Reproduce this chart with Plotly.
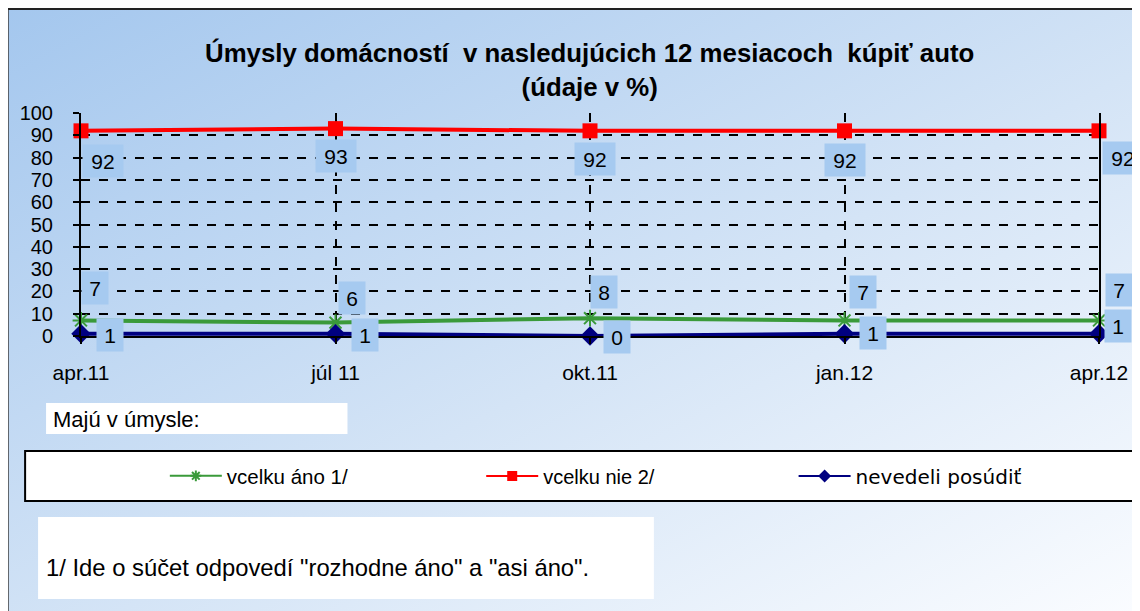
import base64
import plotly.graph_objects as go

# ---- data ----
categories = ["apr.11", "júl 11", "okt.11", "jan.12", "apr.12"]
series_names = ["vcelku áno 1/", "vcelku nie 2/", "nevedeli posúdiť"]
vcelku_ano = [7, 6, 8, 7, 7]
vcelku_nie = [92, 93, 92, 92, 92]
nevedeli = [1, 1, 0, 1, 1]
y_ticks = [0, 10, 20, 30, 40, 50, 60, 70, 80, 90, 100]

title_text = "<b>Úmysly domácností  v nasledujúcich 12 mesiacoch  kúpiť auto<br>(údaje v %)</b>"
intent_text = "Majú v úmysle:"
footnote_text = '1/ Ide o súčet odpovedí "rozhodne áno" a "asi áno".'

# ---- styling / layout (screen pixels; page body has an 8px margin) ----
OFF = 8
W, H = 1140 - OFF, 611 - OFF
PL, PR, PT, PB = 81, 1101, 113, 336  # plot area in screen px
FONT = "Liberation Sans, Arial, sans-serif"


def px_x(p):
    return (p - PL) / (PR - PL)


def px_y(p):
    return (PB - p) / (PB - PT)


# label offsets (px, right / down) for each series' data labels
off_ano = [(14, -32), (16, -25), (14, -26), (18, -28), (20, -30)]
off_nie = [(22, 30), (0, 27), (5, 28), (0, 29), (24, 27)]
off_nev = [(29, 1), (29, 1), (27, 1), (28, -1), (19, -8)]

GREEN = "#3A9A3A"
RED = "#FF0000"
NAVY = "#000080"
LABEL_BG = "#A6CAF0"

fig = go.Figure()
styles = [
    (vcelku_ano, GREEN, "asterisk-open", 14, 9),
    (vcelku_nie, RED, "square", 15, 10),
    (nevedeli, NAVY, "diamond", 15, 10),
]
legend_ids = ["legend", "legend2", "legend3"]
for (vals, col, sym, msize, lsize), name, lid in zip(styles, series_names, legend_ids):
    mk = dict(symbol=sym, size=msize, color=col)
    if sym.endswith("open"):
        mk["line"] = dict(color=col, width=2)
    fig.add_trace(go.Scatter(
        x=categories, y=vals, name=name, mode="lines+markers",
        line=dict(color=col, width=4), marker=mk, cliponaxis=False, showlegend=False,
    ))
    # legend-only entry (thinner line / smaller marker as in the reference legend)
    lmk = dict(symbol=sym, size=lsize, color=col)
    if sym.endswith("open"):
        lmk["line"] = dict(color=col, width=2)
    fig.add_trace(go.Scatter(
        x=[None], y=[None], name=name, mode="lines+markers",
        line=dict(color=col, width=2), marker=lmk, showlegend=True, legend=lid,
    ))

annotations = []
for vals, offs in ((vcelku_nie, off_nie), (vcelku_ano, off_ano), (nevedeli, off_nev)):
    for c, v, (dx, dy) in zip(categories, vals, offs):
        t = str(v)
        annotations.append(dict(
            x=c, y=v, xref="x", yref="y", text=t, showarrow=False,
            xanchor="center", yanchor="middle", xshift=dx, yshift=-dy,
            bgcolor=LABEL_BG, width=38 if len(t) > 1 else 24, height=30,
            borderpad=1, font=dict(family=FONT, size=21, color="black"),
        ))

annotations.append(dict(
    x=px_x(590), y=px_y(69), xref="paper", yref="paper", text=title_text,
    showarrow=False, xanchor="center", yanchor="middle",
    font=dict(family=FONT, size=25.8, color="black"),
))
annotations.append(dict(
    x=px_x(51), y=px_y(419), xref="paper", yref="paper", text=intent_text,
    showarrow=False, xanchor="left", yanchor="middle",
    font=dict(family=FONT, size=22, color="black"),
))
annotations.append(dict(
    x=px_x(44), y=px_y(567), xref="paper", yref="paper", text=footnote_text,
    showarrow=False, xanchor="left", yanchor="middle",
    font=dict(family=FONT, size=23.8, color="black"),
))

shapes = [
    dict(type="rect", xref="paper", yref="paper",
         x0=px_x(7.5), x1=px_x(1160), y0=px_y(9), y1=px_y(640),
         line=dict(color="#222222", width=2), fillcolor="rgba(0,0,0,0)", layer="above"),
    dict(type="rect", xref="paper", yref="paper",
         x0=px_x(46), x1=px_x(348), y0=px_y(403), y1=px_y(434),
         line=dict(width=0), fillcolor="white", layer="above"),
    dict(type="rect", xref="paper", yref="paper",
         x0=px_x(25), x1=px_x(1150), y0=px_y(451), y1=px_y(501),
         line=dict(color="black", width=2), fillcolor="white", layer="above"),
    dict(type="rect", xref="paper", yref="paper",
         x0=px_x(38), x1=px_x(655), y0=px_y(517), y1=px_y(599),
         line=dict(width=0), fillcolor="white", layer="above"),
]

svg = ('<svg xmlns="http://www.w3.org/2000/svg" width="1140" height="611" preserveAspectRatio="none">'
       '<defs><linearGradient id="g" x1="0" y1="0" x2="1" y2="1">'
       '<stop offset="0" stop-color="#A4C7EE"/><stop offset="0.55" stop-color="#D4E4F6"/>'
       '<stop offset="1" stop-color="#FAFCFF"/></linearGradient></defs>'
       '<rect width="1140" height="611" fill="url(#g)"/></svg>')
src = "data:image/svg+xml;base64," + base64.b64encode(svg.encode()).decode()


def leg(xp, family=FONT, size=20.5):
    return dict(
        orientation="h", x=px_x(xp), y=px_y(476), xanchor="left", yanchor="middle",
        bgcolor="rgba(0,0,0,0)", borderwidth=0, itemwidth=52,
        font=dict(family=family, size=size, color="black"), itemclick=False, itemdoubleclick=False,
    )


fig.update_layout(
    width=W, height=H,
    margin=dict(l=PL - OFF, r=1140 - PR, t=PT - OFF, b=611 - PB, pad=0),
    paper_bgcolor="white", plot_bgcolor="rgba(0,0,0,0)",
    font=dict(family=FONT, size=20, color="black"),
    showlegend=True,
    legend=leg(165), legend2=leg(482, size=20), legend3=leg(795, family="DejaVu Sans, sans-serif", size=20),
    images=[dict(source=src, xref="paper", yref="paper",
                 x=px_x(8), y=px_y(10), sizex=(1140 - 8) / (PR - PL), sizey=(611 - 10) / (PB - PT),
                 xanchor="left", yanchor="top", sizing="stretch", layer="below")],
    shapes=shapes,
    annotations=annotations,
)

fig.update_xaxes(
    type="category", range=[0, len(categories) - 1],
    showgrid=True, gridcolor="black", griddash="dash", gridwidth=1.5,
    showline=True, linecolor="black", linewidth=2,
    ticks="outside", ticklen=6, tickcolor="black", tickwidth=1.5,
    ticklabelstandoff=11, tickfont=dict(family=FONT, size=21),
    zeroline=False, fixedrange=True,
)
fig.update_yaxes(
    range=[0, 100], tickvals=y_ticks,
    showgrid=True, gridcolor="black", griddash="dash", gridwidth=1.5,
    showline=True, linecolor="black", linewidth=2, mirror=True,
    ticks="outside", ticklen=6, tickcolor="black", tickwidth=1.5,
    ticklabelstandoff=16, tickfont=dict(family=FONT, size=20),
    zeroline=False, fixedrange=True,
)

fig.write_html("out.html")
